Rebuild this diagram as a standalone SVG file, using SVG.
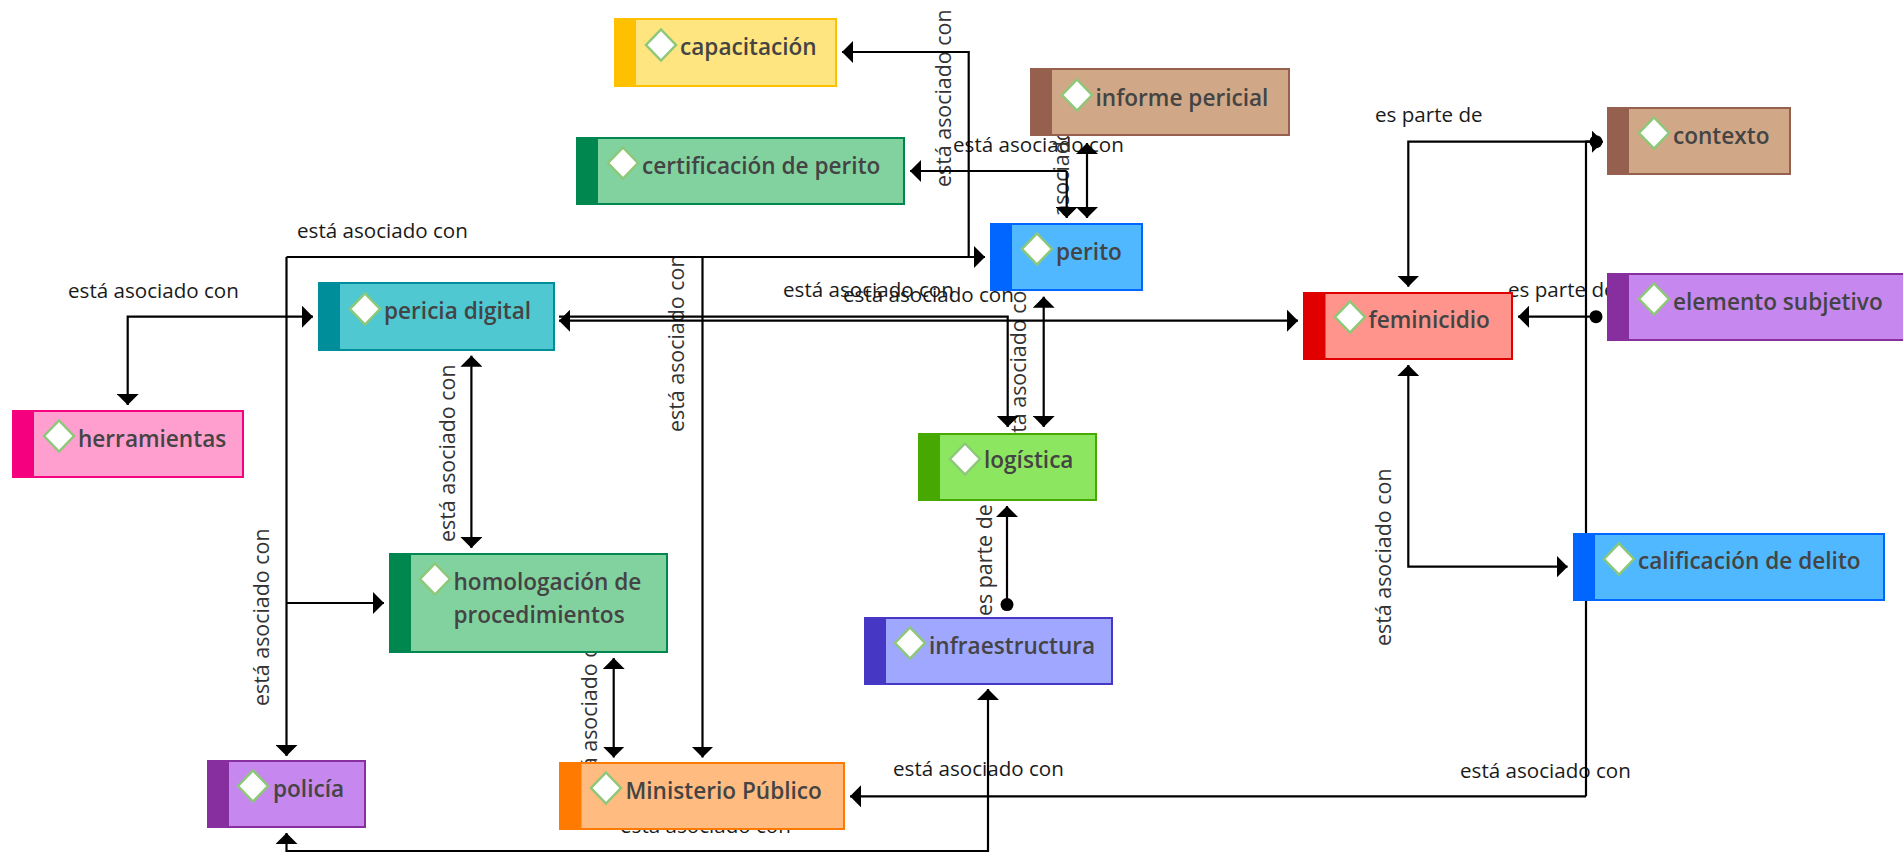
<svg xmlns="http://www.w3.org/2000/svg" width="1903" height="852" viewBox="0 0 1903 852">
<style>
.c{fill:none;stroke:#000;stroke-width:2.2}
.a{marker-end:url(#arrow)}
.b{marker-start:url(#arrowS);marker-end:url(#arrow)}
.d{marker-start:url(#dot);marker-end:url(#arrow)}
.l{font:20.6px "Open Sans","Noto Sans",sans-serif;fill:#1a1a1a}
.r{font:21.4px "Open Sans","Noto Sans",sans-serif;fill:#333}
.n{font:600 22.6px "Open Sans","Noto Sans",sans-serif;fill:#444}
.k{stroke-width:2}
.dm{fill:#fff;stroke:#8cc878;stroke-width:2.5}
.yel .k{fill:#ffe57f;stroke:#ffc000}.yel .s{fill:#ffc000}
.grn .k{fill:#82d2a0;stroke:#00874f}.grn .s{fill:#00874f}
.brn .k{fill:#d0a888;stroke:#96604e}.brn .s{fill:#96604e}
.blu .k{fill:#4fb8ff;stroke:#0066ff}.blu .s{fill:#0066ff}
.tea .k{fill:#4fc8d2;stroke:#008e9a}.tea .s{fill:#008e9a}
.pnk .k{fill:#ff9fcf;stroke:#f5007f}.pnk .s{fill:#f5007f}
.lim .k{fill:#8de660;stroke:#46a800}.lim .s{fill:#46a800}
.ind .k{fill:#a0a7ff;stroke:#4638c4}.ind .s{fill:#4638c4}
.org .k{fill:#ffbb80;stroke:#ff7a00}.org .s{fill:#ff7a00}
.pur .k{fill:#c688ee;stroke:#882fa0}.pur .s{fill:#882fa0}
.red .k{fill:#ff948c;stroke:#e00000}.red .s{fill:#e00000}
</style>
<defs>
<marker id="arrow" markerUnits="userSpaceOnUse" markerWidth="12" markerHeight="22" refX="11" refY="11" orient="auto"><path d="M0 0L11 11L0 22Z"/></marker>
<marker id="arrowS" markerUnits="userSpaceOnUse" markerWidth="12" markerHeight="22" refX="1" refY="11" orient="auto"><path d="M11 0L0 11L11 22Z" transform="translate(1 0)"/></marker>
<marker id="dot" markerUnits="userSpaceOnUse" markerWidth="14" markerHeight="14" refX="7" refY="7" orient="auto"><circle cx="7" cy="7" r="6.5"/></marker>
<polygon id="dia" points="0,-15.5 15,0 0,15.5 -15,0"/>
</defs>
<rect width="1903" height="852" fill="#fff"/>
<g id="labels">
<text class="l" x="953" y="152">está asociado con</text>
<text class="l" x="297" y="238">está asociado con</text>
<text class="l" x="68" y="298">está asociado con</text>
<text class="l" x="783" y="297">está asociado con</text>
<text class="l" x="843" y="302">está asociado con</text>
<text class="l" x="893" y="776">está asociado con</text>
<text class="l" x="620" y="833">está asociado con</text>
<text class="l" x="1460" y="778">está asociado con</text>
<text class="l" x="1375" y="122">es parte de</text>
<text class="l" x="1508" y="297">es parte de</text>
<text class="r" transform="translate(951 187) rotate(-90)">está asociado con</text>
<text class="r" transform="translate(1069 264) rotate(-90)">está asociado con</text>
<text class="r" transform="translate(684 432) rotate(-90)">está asociado con</text>
<text class="r" transform="translate(1026 455) rotate(-90)">está asociado con</text>
<text class="r" transform="translate(455 542) rotate(-90)">está asociado con</text>
<text class="r" transform="translate(269 706) rotate(-90)">está asociado con</text>
<text class="r" transform="translate(597 799) rotate(-90)">está asociado con</text>
<text class="r" transform="translate(992 616) rotate(-90)">es parte de</text>
<text class="r" transform="translate(1391 646) rotate(-90)">está asociado con</text>
</g>
<g id="connectors">
<path class="c a" d="M968.7 257V52H842"/>
<path class="c a" d="M286.5 257H985"/>
<path class="c a" d="M286.5 257V756"/>
<path class="c a" d="M286.5 603H384"/>
<path class="c a" d="M702.5 257V757.5"/>
<path class="c b" d="M613.7 658V757.5"/>
<path class="c a" d="M1586 796.3V141.7H1603"/>
<path class="c a" d="M1586 796.3H850"/>
<path class="c d" d="M1596 141.7H1408.3V286.7"/>
<path class="c d" d="M1596 316.7H1518"/>
<path class="c b" d="M559 320.7H1298"/>
<path class="c a" d="M559 316.7H1007.7V427"/>
<path class="c b" d="M1043.7 296.7V427"/>
<path class="c d" d="M1007 604.6V506"/>
<path class="c b" d="M988 689V851H286.5V833"/>
<path class="c b" d="M1408.3 365V566.7H1567.6"/>
<path class="c b" d="M127.7 405V316.7H313"/>
<path class="c b" d="M471.4 355.7V548"/>
<path class="c b" d="M1087 143V218"/>
<path class="c a" d="M1066.7 171V218"/>
<path class="c a" d="M1066.7 171H910"/>
</g>
<g id="n-capacitacion" class="yel"><rect class="k" x="615" y="19" width="221" height="67"/><rect class="s" x="614" y="18" width="22" height="69"/><use class="dm" href="#dia" x="661" y="45"/><text class="n" x="680" y="55">capacitación</text></g>
<g id="n-informe" class="brn"><rect class="k" x="1031" y="69" width="258" height="66"/><rect class="s" x="1030" y="68" width="22" height="68"/><use class="dm" href="#dia" x="1077" y="95"/><text class="n" x="1095.5" y="106">informe pericial</text></g>
<g id="n-certificacion" class="grn"><rect class="k" x="577" y="138" width="327" height="66"/><rect class="s" x="576" y="137" width="22" height="68"/><use class="dm" href="#dia" x="623" y="163"/><text class="n" x="642" y="174">certificación de perito</text></g>
<g id="n-perito" class="blu"><rect class="k" x="991" y="224" width="151" height="66"/><rect class="s" x="990" y="223" width="22" height="68"/><use class="dm" href="#dia" x="1037" y="249"/><text class="n" x="1056" y="260">perito</text></g>
<g id="n-pericia" class="tea"><rect class="k" x="319" y="283" width="235" height="67"/><rect class="s" x="318" y="282" width="22" height="69"/><use class="dm" href="#dia" x="365" y="309"/><text class="n" x="384" y="319">pericia digital</text></g>
<g id="n-herramientas" class="pnk"><rect class="k" x="13" y="411" width="230" height="66"/><rect class="s" x="12" y="410" width="22" height="68"/><use class="dm" href="#dia" x="59" y="436"/><text class="n" x="78" y="447">herramientas</text></g>
<g id="n-homologacion" class="grn"><rect class="k" x="390" y="554" width="277" height="98"/><rect class="s" x="389" y="553" width="22" height="100"/><use class="dm" href="#dia" x="435" y="579"/><text class="n" x="453.5" y="590">homologación de</text><text class="n" x="453.5" y="623">procedimientos</text></g>
<g id="n-logistica" class="lim"><rect class="k" x="919" y="434" width="177" height="66"/><rect class="s" x="918" y="433" width="22" height="68"/><use class="dm" href="#dia" x="965" y="459"/><text class="n" x="984" y="468">logística</text></g>
<g id="n-infraestructura" class="ind"><rect class="k" x="865" y="618" width="247" height="66"/><rect class="s" x="864" y="617" width="22" height="68"/><use class="dm" href="#dia" x="910" y="643"/><text class="n" x="929" y="654">infraestructura</text></g>
<g id="n-policia" class="pur"><rect class="k" x="208" y="761" width="157" height="66"/><rect class="s" x="207" y="760" width="22" height="68"/><use class="dm" href="#dia" x="253" y="786"/><text class="n" x="273" y="797">policía</text></g>
<g id="n-ministerio" class="org"><rect class="k" x="560" y="763" width="284" height="66"/><rect class="s" x="559.5" y="762" width="22" height="68"/><use class="dm" href="#dia" x="606" y="788"/><text class="n" x="625.5" y="799">Ministerio Público</text></g>
<g id="n-feminicidio" class="red"><rect class="k" x="1304" y="293" width="208" height="66"/><rect class="s" x="1303.5" y="292" width="22" height="68"/><use class="dm" href="#dia" x="1350" y="317"/><text class="n" x="1368.5" y="328">feminicidio</text></g>
<g id="n-contexto" class="brn"><rect class="k" x="1608" y="108" width="182" height="66"/><rect class="s" x="1607" y="107" width="22" height="68"/><use class="dm" href="#dia" x="1654" y="133"/><text class="n" x="1673" y="144">contexto</text></g>
<g id="n-elemento" class="pur"><rect class="k" x="1608" y="274" width="296" height="66"/><rect class="s" x="1607" y="273" width="22" height="68"/><use class="dm" href="#dia" x="1654" y="299"/><text class="n" x="1673" y="310">elemento subjetivo</text></g>
<g id="n-calificacion" class="blu"><rect class="k" x="1574" y="534" width="310" height="66"/><rect class="s" x="1573" y="533" width="22" height="68"/><use class="dm" href="#dia" x="1619" y="559"/><text class="n" x="1638" y="569">calificación de delito</text></g>
</svg>
